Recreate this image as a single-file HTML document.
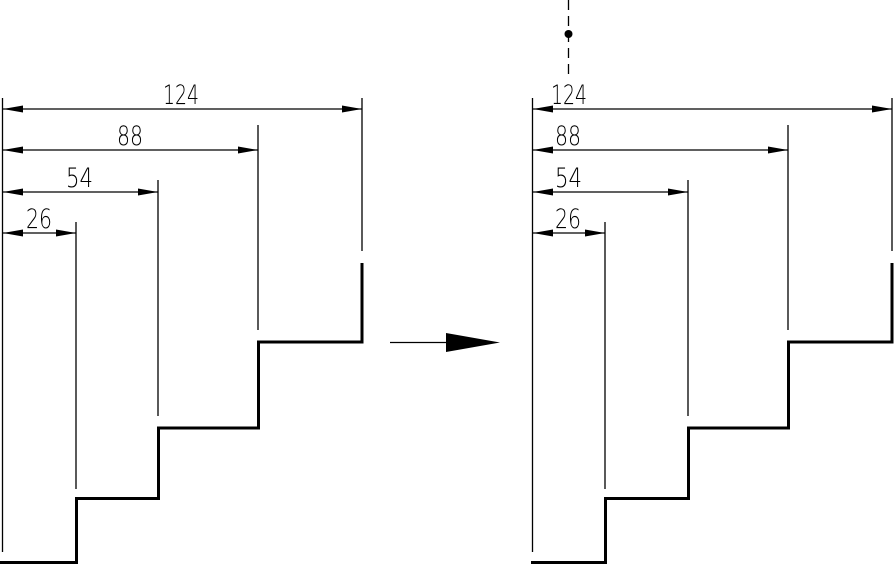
<!DOCTYPE html>
<html><head><meta charset="utf-8"><style>
html,body{margin:0;padding:0;background:#fff;}
svg{display:block;}
text{font-family:"DejaVu Sans","Liberation Sans",sans-serif;font-size:27px;font-weight:200;fill:#000;}
</style></head><body>
<svg width="894" height="565" viewBox="0 0 894 565" xmlns="http://www.w3.org/2000/svg">
<g stroke="#000" stroke-width="1.3" fill="none">
<line x1="2.5" y1="98" x2="2.5" y2="552"/>
<line x1="362" y1="98" x2="362" y2="251"/>
<line x1="258" y1="125" x2="258" y2="330"/>
<line x1="158" y1="180" x2="158" y2="416"/>
<line x1="76" y1="222" x2="76" y2="489"/>
<line x1="3" y1="109" x2="362" y2="109"/>
<line x1="3" y1="150" x2="258" y2="150"/>
<line x1="3" y1="192" x2="158" y2="192"/>
<line x1="3" y1="233" x2="76" y2="233"/>
<line x1="532.5" y1="98" x2="532.5" y2="552"/>
<line x1="892" y1="98" x2="892" y2="251"/>
<line x1="788" y1="125" x2="788" y2="330"/>
<line x1="688" y1="180" x2="688" y2="416"/>
<line x1="605" y1="222" x2="605" y2="489"/>
<line x1="533" y1="109" x2="892" y2="109"/>
<line x1="533" y1="150" x2="788" y2="150"/>
<line x1="533" y1="192" x2="688" y2="192"/>
<line x1="533" y1="233" x2="605" y2="233"/>
<line x1="568.5" y1="0" x2="568.5" y2="80" stroke-dasharray="10,6"/>
<line x1="390" y1="342.5" x2="450" y2="342.5"/>
</g>
<g fill="#000">
<path d="M3,109 L23,105.5 L23,112.5 Z"/><path d="M362,109 L342,105.5 L342,112.5 Z"/>
<path d="M3,150 L23,146.5 L23,153.5 Z"/><path d="M258,150 L238,146.5 L238,153.5 Z"/>
<path d="M3,192 L23,188.5 L23,195.5 Z"/><path d="M158,192 L138,188.5 L138,195.5 Z"/>
<path d="M3,233 L23,229.5 L23,236.5 Z"/><path d="M76,233 L56,229.5 L56,236.5 Z"/>
<path d="M533,109 L553,105.5 L553,112.5 Z"/><path d="M892,109 L872,105.5 L872,112.5 Z"/>
<path d="M533,150 L553,146.5 L553,153.5 Z"/><path d="M788,150 L768,146.5 L768,153.5 Z"/>
<path d="M533,192 L553,188.5 L553,195.5 Z"/><path d="M688,192 L668,188.5 L668,195.5 Z"/>
<path d="M533,233 L553,229.5 L553,236.5 Z"/><path d="M605,233 L585,229.5 L585,236.5 Z"/>
</g>
<circle cx="568.5" cy="34" r="4" fill="#000"/>
<path d="M446,333 L500,342.5 L446,352 Z" fill="#000"/>
<g stroke="#000" stroke-width="3" fill="none" stroke-linejoin="miter">
<polyline points="0,562.5 76.5,562.5 76.5,498.5 158.5,498.5 158.5,428 258.5,428 258.5,342 362,342 362,263"/>
<polyline points="531,562.5 605.5,562.5 605.5,498.5 688.5,498.5 688.5,428 788.5,428 788.5,342 892,342 892,263"/>
</g>
<g>
<text x="163" y="104" textLength="36" lengthAdjust="spacingAndGlyphs">124</text>
<text x="117" y="145" textLength="26" lengthAdjust="spacingAndGlyphs">88</text>
<text x="66" y="187" textLength="27" lengthAdjust="spacingAndGlyphs">54</text>
<text x="26" y="228" textLength="26" lengthAdjust="spacingAndGlyphs">26</text>
<text x="551" y="104" textLength="36" lengthAdjust="spacingAndGlyphs">124</text>
<text x="555" y="145" textLength="26" lengthAdjust="spacingAndGlyphs">88</text>
<text x="555" y="187" textLength="27" lengthAdjust="spacingAndGlyphs">54</text>
<text x="555" y="228" textLength="26" lengthAdjust="spacingAndGlyphs">26</text>
</g>
</svg>
</body></html>
